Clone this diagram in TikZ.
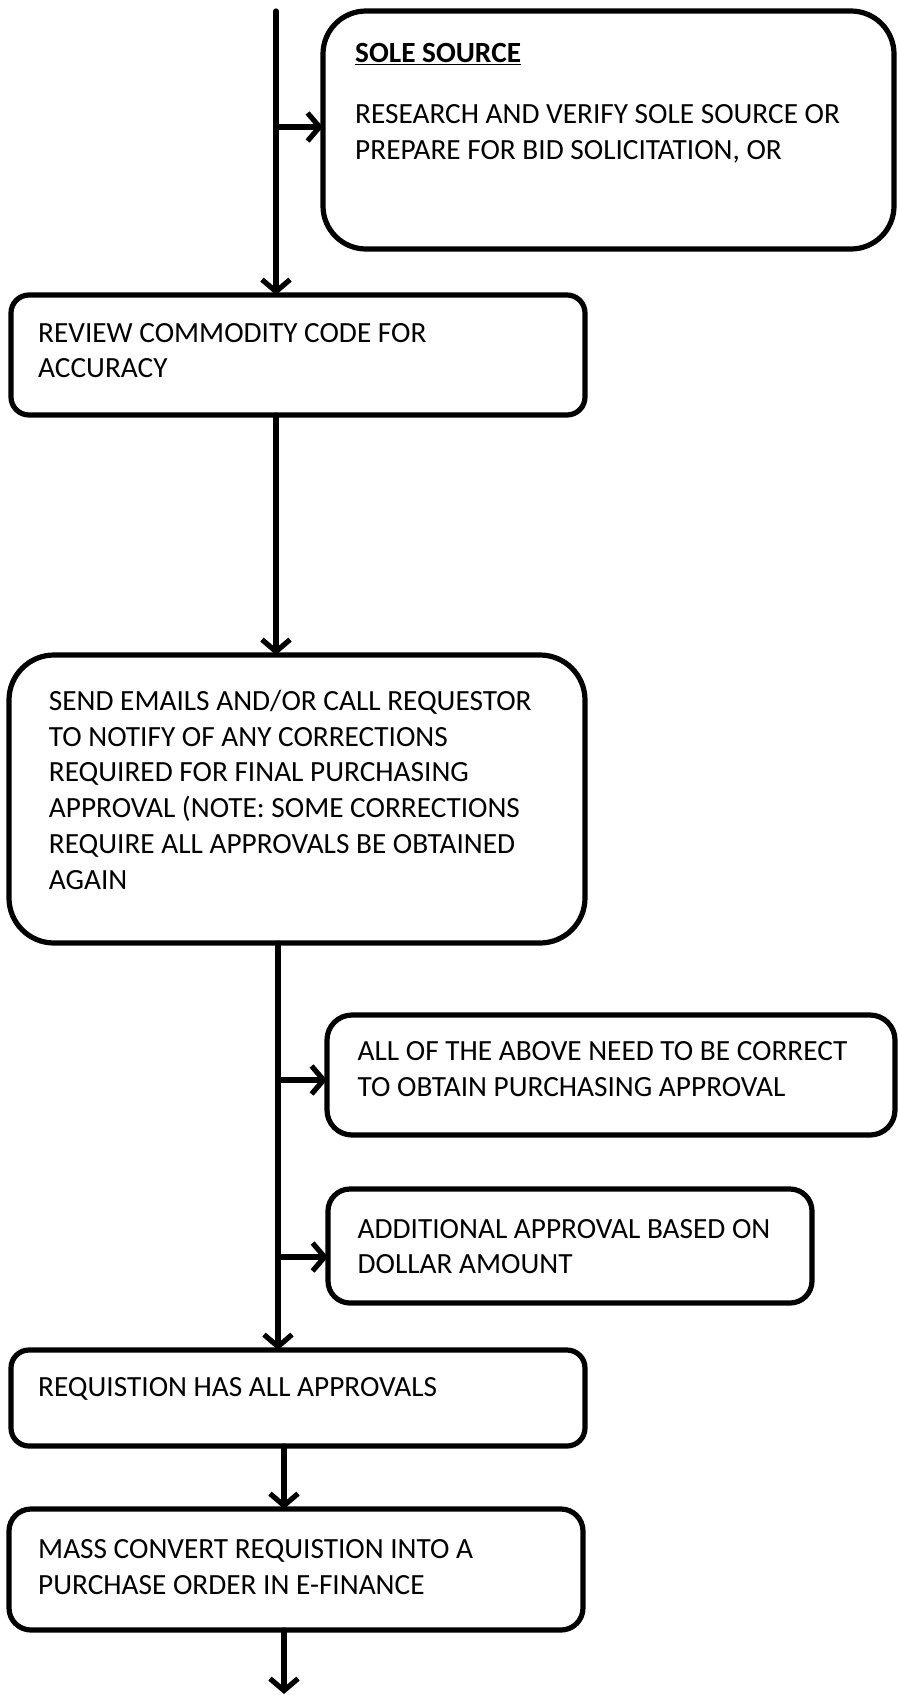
\documentclass[tikz,border=0pt]{standalone}
\usepackage{fontspec}
\setmainfont{Carlito}
\usetikzlibrary{arrows.meta}
\begin{document}
\begin{tikzpicture}[x=1pt,y=1pt,
  box/.style={draw=black, line width=5.2pt, fill=white, rounded corners=#1, anchor=north west, inner sep=0pt, outer sep=0pt},
  box/.default=20pt,
  txt/.style={anchor=base west, inner sep=0pt, font=\fontsize{29.3}{35.7}\selectfont},
  conn/.style={line width=5.2pt, -{Straight Barb[length=12pt,width=28pt]}, line cap=round},
  plain/.style={line width=5.2pt, line cap=round}
]
\useasboundingbox (0,0) rectangle (897,-1699);

% boxes
\node[box=43pt, minimum width=571pt, minimum height=238pt] (sole) at (323,-11) {};
\node[box=18pt, minimum width=574pt, minimum height=120pt] (rev) at (11,-295) {};
\node[box=45pt, minimum width=576pt, minimum height=288pt] (send) at (9,-655) {};
\node[box=25pt, minimum width=568pt, minimum height=120pt] (all) at (327,-1015) {};
\node[box=22pt, minimum width=484pt, minimum height=114pt] (add) at (328,-1189) {};
\node[box=18pt, minimum width=574pt, minimum height=96pt] (req) at (11,-1350) {};
\node[box=22pt, minimum width=574pt, minimum height=121pt] (mass) at (9,-1509) {};

% texts
\node[txt] (soleT) at (355,-63) {\textbf{\underline{SOLE SOURCE}}};
\node[txt] (soleB) at (355,-123.5) {\parbox[t]{530pt}{RESEARCH AND VERIFY SOLE SOURCE OR\\PREPARE FOR BID SOLICITATION, OR}};
\node[txt] (revT) at (38,-342) {\parbox[t]{530pt}{REVIEW COMMODITY CODE FOR\\ACCURACY}};
\node[txt] (sendT) at (48.7,-710.5) {\parbox[t]{530pt}{SEND EMAILS AND/OR CALL REQUESTOR\\TO NOTIFY OF ANY CORRECTIONS\\REQUIRED FOR FINAL PURCHASING\\APPROVAL (NOTE: SOME CORRECTIONS\\REQUIRE ALL APPROVALS BE OBTAINED\\AGAIN}};
\node[txt] (allT) at (357.5,-1060.5) {\parbox[t]{530pt}{ALL OF THE ABOVE NEED TO BE CORRECT\\TO OBTAIN PURCHASING APPROVAL}};
\node[txt] (addT) at (357.5,-1238) {\parbox[t]{450pt}{ADDITIONAL APPROVAL BASED ON\\DOLLAR AMOUNT}};
\node[txt] (reqT) at (38,-1396) {REQUISTION HAS ALL APPROVALS};
\node[txt] (massT) at (38,-1558.5) {\parbox[t]{530pt}{MASS CONVERT REQUISTION INTO A\\PURCHASE ORDER IN E-FINANCE}};

% connectors
\coordinate (top) at (276,-11);
\coordinate (s1) at (276,-127);
\coordinate (m) at (278,0);
\coordinate (b1) at (278,-1080);
\coordinate (b2) at (278,-1257);
\coordinate (n) at (284,0);
\coordinate (end) at (284,-1694);

\draw[conn] (top) -- (top |- rev.north);
\draw[conn] (s1) -- (s1 -| sole.west);
\draw[conn] (rev.south -| top) -- (send.north -| top);
\draw[conn] (send.south -| m) -- (req.north -| m);
\draw[conn] (b1) -- (b1 -| all.west);
\draw[conn] (b2) -- (b2 -| add.west);
\draw[conn] (req.south -| n) -- (mass.north -| n);
\draw[conn] (mass.south -| n) -- (end);
\end{tikzpicture}
\end{document}
